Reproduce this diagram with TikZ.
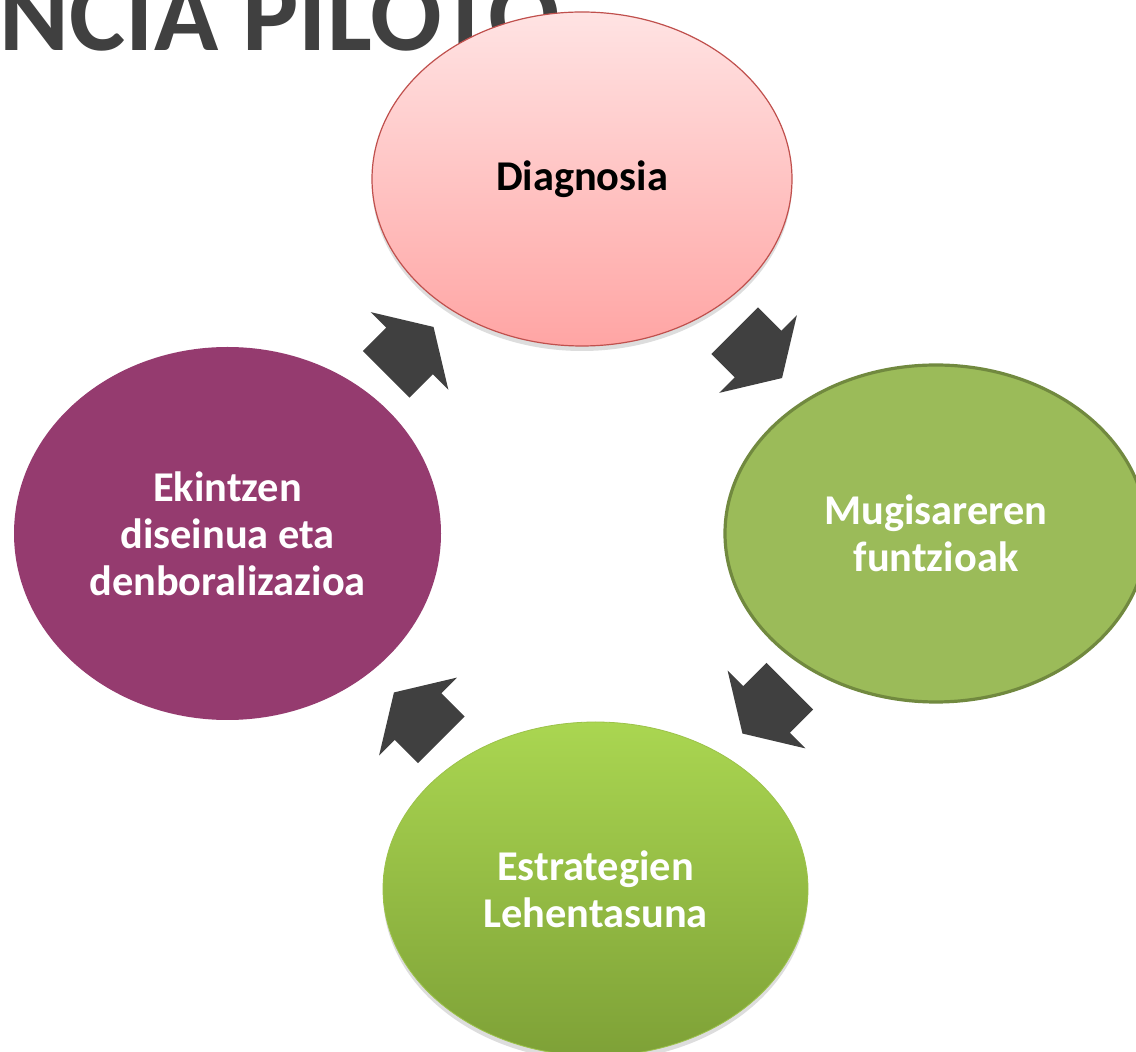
\documentclass[tikz,border=0pt]{standalone}
\usepackage{fontspec}
\setmainfont{Carlito}
\usetikzlibrary{shapes.geometric,shadows}
\definecolor{dgray}{HTML}{404040}
\definecolor{pinktop}{HTML}{FFE3E3}
\definecolor{pinkbot}{HTML}{FFA5A4}
\definecolor{pinkline}{HTML}{C0504D}
\definecolor{olive}{HTML}{9BBB59}
\definecolor{oliveline}{HTML}{71893F}
\definecolor{greentop}{HTML}{AAD651}
\definecolor{greenbot}{HTML}{7EA137}
\definecolor{greenline}{HTML}{9CC24A}
\definecolor{plum}{HTML}{953B6F}
\begin{document}
\begin{tikzpicture}[x=0.5pt,y=-0.5pt,
  blob/.style={ellipse, inner sep=0pt, align=center,
    font=\fontsize{21.2pt}{23.4pt}\selectfont\bfseries},
  softshadow/.style={drop shadow={shadow xshift=0pt, shadow yshift=-2.5pt, opacity=0.22, fill=black!60}},
  barrow/.pic={\fill[dgray] (-33,-33) -- (0,-33) -- (0,-55) -- (34,0) -- (0,55) -- (0,33) -- (-33,33) -- cycle;}
]
\useasboundingbox (0,0) rectangle (1136,1052);
\clip (0,0) rectangle (1136,1052);
\fill[white] (0,0) rectangle (1136,1052);

\node[anchor=base east, inner sep=0pt, text=dgray,
      font=\fontsize{53pt}{60pt}\selectfont\bfseries] (title) at (561,51) {NCIA PILOTO};

\node[blob, softshadow, minimum width=210pt, minimum height=167pt,
      top color=pinktop, bottom color=pinkbot, draw=pinkline, line width=0.6pt,
      text=black] (diag) at (582,179) {Diagnosia};

\node[blob, minimum width=211pt, minimum height=168.5pt,
      fill=olive, draw=oliveline, line width=1.6pt,
      text=white] (mug) at (936,533.5) {Mugisareren\\funtzioak};

\node[blob, softshadow, minimum width=212.5pt, minimum height=167pt,
      top color=greentop, bottom color=greenbot, draw=greenline, line width=0.4pt,
      text=white] (estr) at (595.5,889) {Estrategien\\Lehentasuna};

\node[blob, minimum width=213.5pt, minimum height=186.5pt,
      fill=plum, text=white] (ekin) at (227.5,533.5) {Ekintzen\\diseinua eta\\denboralizazioa};

\pic[rotate=-45] (a1) at (758,354) {barrow};
\pic[rotate=-135] (a2) at (766.5,709.5) {barrow};
\pic[rotate=135] (a3) at (418,716.5) {barrow};
\pic[rotate=45] (a4) at (409.5,351) {barrow};
\end{tikzpicture}
\end{document}
